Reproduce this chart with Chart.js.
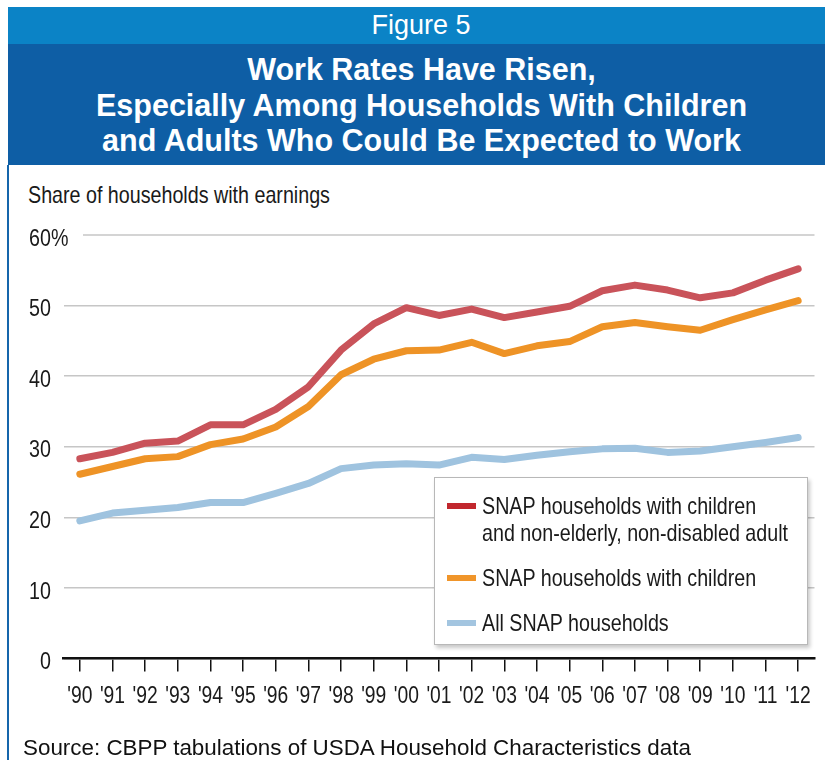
<!DOCTYPE html>
<html>
<head>
<meta charset="utf-8">
<script src="https://cdn.jsdelivr.net/npm/chart.js@4.4.1/dist/chart.umd.min.js"></script>
<style>
  html, body { margin: 0; padding: 0; background: #ffffff; }
  body { width: 825px; height: 760px; position: relative; overflow: hidden; }
  .cond { display: inline-block; transform: scaleX(0.82); transform-origin: 0 50%; white-space: pre;
          font-family: "Liberation Sans", Arial, sans-serif; }
  #band1 { position: absolute; left: 8px; top: 7px; width: 817px; height: 37px; background: #0b83c6;
           color: #fff; font-family: "Liberation Sans", Arial, sans-serif; font-size: 27px; line-height: 37px;
           text-align: center; box-sizing: border-box; padding-left: 9px; }
  #band2 { position: absolute; left: 8px; top: 44px; width: 817px; height: 121px; background: #0e5ea5;
           color: #fff; font-family: "Liberation Sans", Arial, sans-serif; font-weight: bold; font-size: 30.5px;
           line-height: 35.5px; text-align: center; box-sizing: border-box; padding-top: 8px; padding-left: 10px; }
  #leftRule { position: absolute; left: 7px; top: 165px; width: 2px; height: 595px; background: #1565ab; }
  #yTitle { position: absolute; left: 28px; top: 180px; font-size: 24px; line-height: 30px; color: #1a1a1a; }
  #source { position: absolute; left: 23px; top: 734px; font-family: "Liberation Sans", Arial, sans-serif;
            font-size: 22.4px; line-height: 28px; color: #111; white-space: nowrap; }
  #chartWrap { position: absolute; left: 0; top: 165px; width: 825px; height: 595px; }
  #legend { position: absolute; left: 434px; top: 477px; width: 374px; height: 168px; box-sizing: border-box;
            background: #fff; border: 1px solid #b8b8b8; box-shadow: 2px 3px 4px rgba(0,0,0,0.22);
            padding-top: 14px; }
  .lg-item { position: relative; padding-left: 47px; font-size: 24px; line-height: 27px; color: #1a1a1a;
             margin-bottom: 17px; height: auto; }
  .lg-item .cond { transform-origin: 0 0; }
  .lg-sw { position: absolute; left: 12px; top: 10.5px; width: 29px; height: 6px; }
</style>
</head>
<body>
<div id="band1">Figure 5</div>
<div id="band2">Work Rates Have Risen,<br>Especially Among Households With Children<br>and Adults Who Could Be Expected to Work</div>
<div id="leftRule"></div>
<div id="yTitle"><span class="cond">Share of households with earnings</span></div>
<div id="chartWrap"><canvas id="c" width="825" height="595"></canvas></div>
<div id="legend"></div>
<div id="source">Source: CBPP tabulations of USDA Household Characteristics data</div>
<script>
// ---- data ----
const years = ["'90","'91","'92","'93","'94","'95","'96","'97","'98","'99","'00","'01","'02","'03","'04","'05","'06","'07","'08","'09","'10","'11","'12"];
const snapChildrenAdult = [28.3, 29.2, 30.5, 30.8, 33.1, 33.1, 35.3, 38.5, 43.7, 47.4, 49.7, 48.6, 49.5, 48.3, 49.1, 49.9, 52.1, 52.9, 52.2, 51.1, 51.8, 53.6, 55.2];
const snapChildren = [26.1, 27.2, 28.3, 28.6, 30.3, 31.1, 32.8, 35.7, 40.2, 42.4, 43.6, 43.7, 44.8, 43.2, 44.3, 44.9, 47.0, 47.6, 47.0, 46.5, 48.0, 49.4, 50.7];
const allSnap = [19.5, 20.6, 21.0, 21.4, 22.1, 22.1, 23.4, 24.8, 26.9, 27.4, 27.6, 27.4, 28.5, 28.2, 28.8, 29.3, 29.7, 29.8, 29.2, 29.4, 30.0, 30.6, 31.3];
const yTickValues = [0, 10, 20, 30, 40, 50, 60];
const seriesLabels = ["SNAP households with children\nand non-elderly, non-disabled adult", "SNAP households with children", "All SNAP households"];

const BASE_FONT = '"Liberation Sans", Arial, sans-serif';
const COND = 0.82;
const lineColors = ['#c9535a', '#ee9326', '#9fc3df'];
const swatchColors = ['#c1272e', '#f0952a', '#a3c5e0'];

function condText(ctx, text, x, y, align) {
  ctx.save();
  ctx.translate(x, y);
  ctx.scale(COND, 1);
  ctx.textAlign = align;
  ctx.fillText(text, 0, 0);
  ctx.restore();
}

const axisLabelPlugin = {
  id: 'axisLabels',
  afterDraw(chart) {
    const ctx = chart.ctx, ys = chart.scales.y, xs = chart.scales.x, area = chart.chartArea;
    ctx.save();
    // top gridline (starts right of the "60%" label)
    const yTop = ys.getPixelForValue(yTickValues[yTickValues.length - 1]);
    ctx.strokeStyle = '#c6c6c6'; ctx.lineWidth = 1.5;
    ctx.beginPath(); ctx.moveTo(83, yTop); ctx.lineTo(area.right, yTop); ctx.stroke();
    ctx.font = '24px ' + BASE_FONT;
    ctx.fillStyle = '#1a1a1a';
    ctx.textBaseline = 'middle';
    yTickValues.forEach((v, i) => {
      const y = ys.getPixelForValue(v) + 4;
      condText(ctx, String(v), 51, y, 'right');
      if (i === yTickValues.length - 1) condText(ctx, '%', 51, y, 'left');
    });
    // category labels
    ctx.font = '23.5px ' + BASE_FONT;
    const ly = area.bottom + 38.5;
    years.forEach((lab, i) => {
      condText(ctx, lab, xs.getPixelForValue(i), ly, 'center');
    });
    ctx.restore();
  }
};

const htmlLegendPlugin = {
  id: 'htmlLegend',
  afterUpdate(chart) {
    const box = document.getElementById('legend');
    box.innerHTML = '';
    chart.data.datasets.forEach(ds => {
      const item = document.createElement('div');
      item.className = 'lg-item';
      const sw = document.createElement('span');
      sw.className = 'lg-sw';
      sw.style.background = ds.legendColor;
      item.appendChild(sw);
      const t = document.createElement('span');
      t.className = 'cond';
      t.textContent = ds.label;
      item.appendChild(t);
      box.appendChild(item);
    });
  }
};

const datasets = [snapChildrenAdult, snapChildren, allSnap].map((d, i) => ({
  label: seriesLabels[i],
  data: d,
  borderColor: lineColors[i],
  legendColor: swatchColors[i],
  borderWidth: 7,
  pointRadius: 0,
  tension: 0,
  fill: false,
  borderCapStyle: 'round',
  borderJoinStyle: 'round'
}));

new Chart(document.getElementById('c'), {
  type: 'line',
  data: { labels: years, datasets },
  plugins: [axisLabelPlugin, htmlLegendPlugin],
  options: {
    responsive: false,
    animation: false,
    devicePixelRatio: 1,
    layout: { padding: { left: 0, right: 10.5, top: 70, bottom: 41.5 } },
    plugins: { legend: { display: false }, tooltip: { enabled: false }, title: { display: false } },
    scales: {
      x: {
        type: 'category',
        offset: true,
        grid: { display: true, drawOnChartArea: false, drawTicks: true, tickLength: 13, color: '#111', lineWidth: 1.5, offset: false },
        border: { display: true, color: '#111', width: 2.5 },
        ticks: { display: false, autoSkip: false },
        afterFit(scale) { scale.height = 60; }
      },
      y: {
        min: 0, max: 60,
        ticks: { stepSize: 10, display: false },
        grid: { color: (c) => (c.tick && c.tick.value === 60) ? 'rgba(0,0,0,0)' : '#c6c6c6', lineWidth: 1.5, drawTicks: false },
        border: { display: false },
        afterFit(scale) { scale.width = 63.5; }
      }
    }
  }
});
</script>
</body>
</html>
